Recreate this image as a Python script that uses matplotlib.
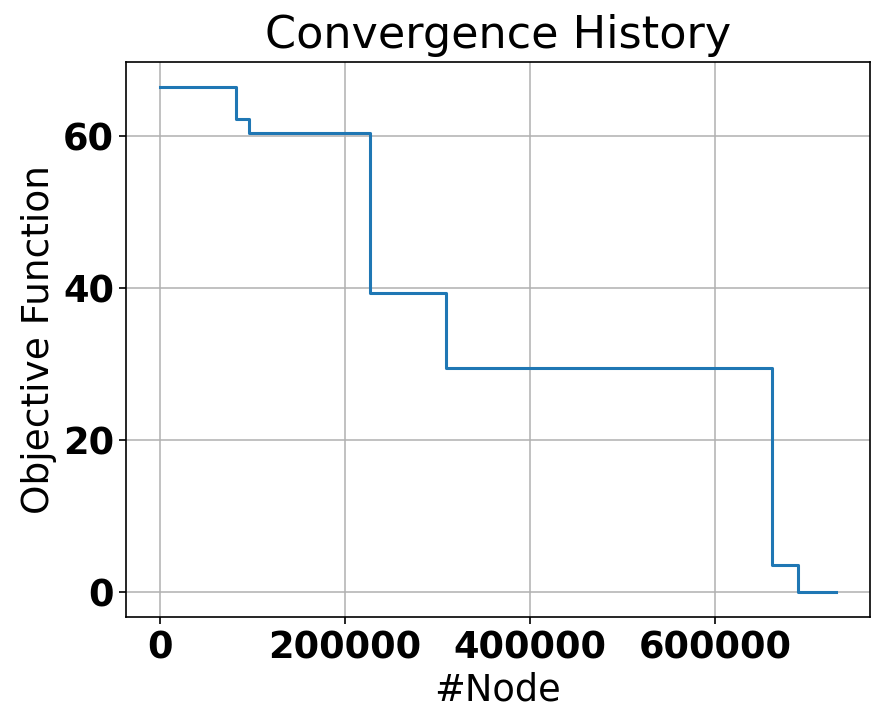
import matplotlib
matplotlib.use("Agg")
import matplotlib.pyplot as plt

nodes = [0, 82800, 96800, 227400, 309800, 661300, 689400, 731000]
objective = [66.4, 62.2, 60.4, 39.3, 29.45, 3.56, 0.0, 0.0]
xticks = [0, 200000, 400000, 600000]
yticks = [0, 20, 40, 60]

fig = plt.figure(figsize=(8.93, 7.28), dpi=100)
ax = fig.add_axes([0.1411, 0.1525, 0.8331, 0.7624])
ax.plot(nodes, objective, drawstyle='steps-post', color='#1f77b4', linewidth=2.2)
ax.grid(True, color='#b0b0b0', linewidth=1.1)
ax.set_axisbelow(True)
ax.set_xticks(xticks)
ax.set_yticks(yticks)
ax.set_xticklabels([str(v) for v in xticks], fontsize=26.5, fontweight='bold')
ax.set_yticklabels([str(v) for v in yticks], fontsize=26.5, fontweight='bold')
ax.tick_params(length=5.2, width=1.2)
for s in ax.spines.values():
    s.set_linewidth(1.2)
ax.set_xlabel('#Node', fontsize=26.5)
ax.set_ylabel('Objective Function', fontsize=27)
ax.set_title('Convergence History', fontsize=32, pad=10)
fig.savefig('out.png', dpi=100)
